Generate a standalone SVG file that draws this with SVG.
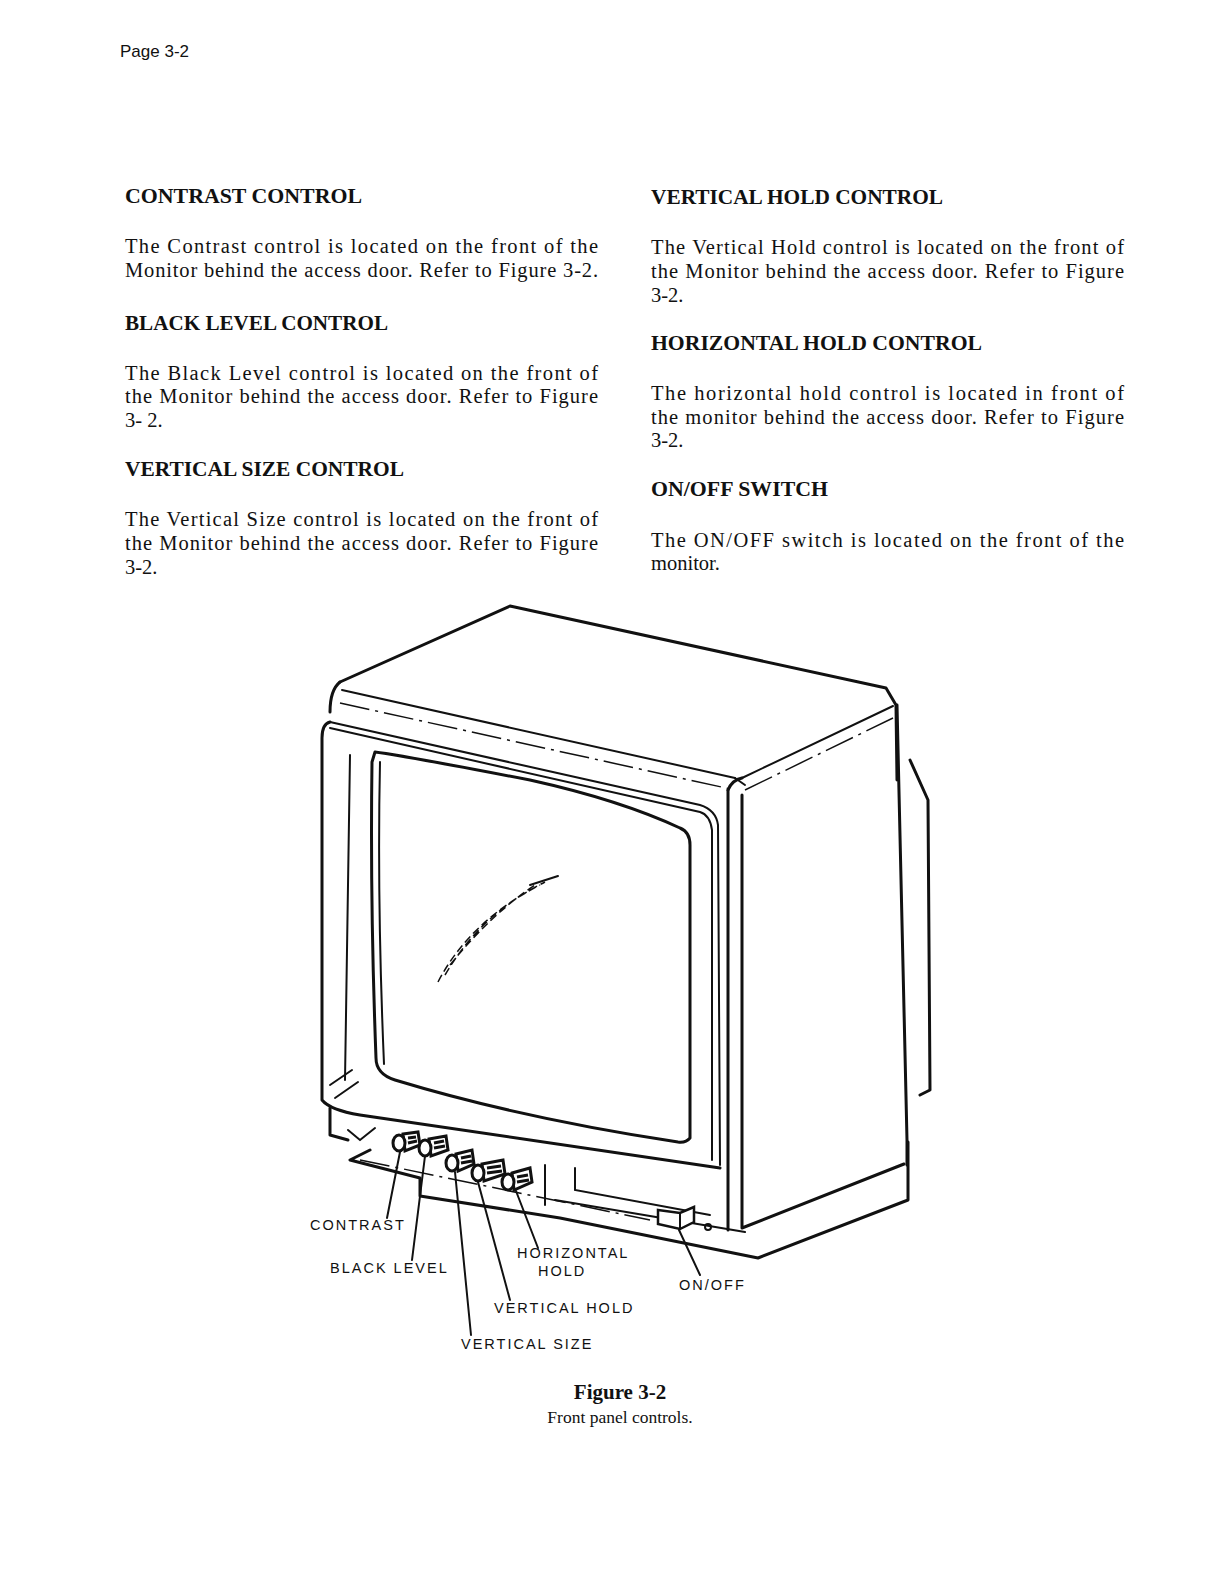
<svg xmlns="http://www.w3.org/2000/svg" width="1224" height="1582" viewBox="0 0 1224 1582">
<style>
.h{font-family:"Liberation Serif",serif;font-weight:bold;font-size:21.5px;fill:#111}
.b{font-family:"Liberation Serif",serif;font-size:20.5px;fill:#111}
.l{font-family:"Liberation Sans",sans-serif;font-size:14.5px;letter-spacing:2px;fill:#111}
.s{fill:none;stroke:#111;stroke-width:3;stroke-linejoin:round;stroke-linecap:round}
.t{fill:none;stroke:#111;stroke-width:2;stroke-linecap:round}
.d{fill:none;stroke:#111;stroke-width:1.5;stroke-dasharray:30 6 3 6}
</style>
<rect width="1224" height="1582" fill="#fff"/>
<text x="120" y="57" font-family="Liberation Sans,sans-serif" font-size="17" fill="#111">Page 3-2</text>
<g id="text-left">
<text class="h" x="125" y="203" textLength="237" lengthAdjust="spacingAndGlyphs">CONTRAST CONTROL</text>
<text class="b" x="125" y="253" textLength="473" lengthAdjust="spacing">The Contrast control is located on the front of the</text>
<text class="b" x="125" y="277" textLength="473" lengthAdjust="spacing">Monitor behind the access door. Refer to Figure 3-2.</text>
<text class="h" x="125" y="330" textLength="263" lengthAdjust="spacingAndGlyphs">BLACK LEVEL CONTROL</text>
<text class="b" x="125" y="380" textLength="473" lengthAdjust="spacing">The Black Level control is located on the front of</text>
<text class="b" x="125" y="403" textLength="473" lengthAdjust="spacing">the Monitor behind the access door. Refer to Figure</text>
<text class="b" x="125" y="427">3- 2.</text>
<text class="h" x="125" y="476" textLength="279" lengthAdjust="spacingAndGlyphs">VERTICAL SIZE CONTROL</text>
<text class="b" x="125" y="526" textLength="473" lengthAdjust="spacing">The Vertical Size control is located on the front of</text>
<text class="b" x="125" y="550" textLength="473" lengthAdjust="spacing">the Monitor behind the access door. Refer to Figure</text>
<text class="b" x="125" y="574">3-2.</text>
</g>
<g id="text-right">
<text class="h" x="651" y="204" textLength="292" lengthAdjust="spacingAndGlyphs">VERTICAL HOLD CONTROL</text>
<text class="b" x="651" y="254" textLength="473" lengthAdjust="spacing">The Vertical Hold control is located on the front of</text>
<text class="b" x="651" y="278" textLength="473" lengthAdjust="spacing">the Monitor behind the access door. Refer to Figure</text>
<text class="b" x="651" y="302">3-2.</text>
<text class="h" x="651" y="350" textLength="331" lengthAdjust="spacingAndGlyphs">HORIZONTAL HOLD CONTROL</text>
<text class="b" x="651" y="400" textLength="473" lengthAdjust="spacing">The horizontal hold control is located in front of</text>
<text class="b" x="651" y="424" textLength="473" lengthAdjust="spacing">the monitor behind the access door. Refer to Figure</text>
<text class="b" x="651" y="447">3-2.</text>
<text class="h" x="651" y="496" textLength="177" lengthAdjust="spacingAndGlyphs">ON/OFF SWITCH</text>
<text class="b" x="651" y="547" textLength="473" lengthAdjust="spacing">The ON/OFF switch is located on the front of the</text>
<text class="b" x="651" y="570">monitor.</text>
</g>
<g id="monitor">
<!-- top face -->
<path class="s" d="M340,682 L510,606 L886,688 L896,705 L897,780"/>
<path class="s" d="M340,682 Q330,690 330,712"/>
<path class="t" d="M342,690 L735,778"/>
<path class="d" d="M340,703 L735,790"/>
<path class="t" d="M742,778 L893,706"/>
<path class="d" d="M745,790 L893,718"/>
<path class="t" d="M735,778 L745,785"/>
<!-- right side -->
<path class="s" d="M728,790 Q732,780 742,778"/>
<path class="s" d="M742,795 L742,1228 L904,1164"/>
<path class="s" d="M897,705 L907,1140 L907,1165"/>
<path class="s" d="M728,790 L728,1230"/>
<path class="s" d="M910,760 L928,800 L930,1090 L920,1095"/>
<!-- bezel -->
<path class="s" d="M330,722 Q322,724 322,738 L322,1100 Q330,1110 360,1115 L720,1168"/>
<path class="t" d="M330,722 L700,805 Q716,810 718,825 L720,1165"/>
<path class="t" d="M330,728 L700,812 Q710,815 712,830 L712,1160"/>
<path class="t" d="M350,755 L345,1080"/>
<path class="s" d="M375,752 Q400,755 530,780 Q620,800 680,828 Q690,832 690,845 L690,1138 Q686,1143 678,1142 Q520,1118 395,1080 Q376,1074 376,1058 Q370,900 372,762 Z"/>
<path class="t" d="M380,762 Q377,900 384,1064"/>
<path class="t" d="M330,1085 L352,1070 M335,1098 L358,1082"/>
<!-- reflection -->
<path class="d" d="M438,982 Q470,920 545,882 M445,975 Q480,915 540,885 M450,965 Q490,915 535,885" style="stroke-dasharray:8 4"/>
<path class="t" d="M530,885 L558,876"/>
<!-- base -->
<path class="s" d="M330,1108 L330,1135 L348,1140"/>
<path class="t" d="M348,1130 L360,1140 L375,1128"/>
<path class="s" d="M370,1150 L350,1160 L420,1178 L420,1196 L560,1218 L758,1258 L908,1200 L908,1142"/>
<path class="t" d="M420,1196 L420,1186"/>
<path class="t" d="M545,1165 L545,1205"/>
<path class="t" d="M555,1200 L745,1232"/>
<path class="t" d="M575,1168 L575,1190 L710,1215"/>
<path class="d" d="M360,1160 L650,1220"/>
<!-- knobs -->
<g fill="#fff" stroke="#111" stroke-width="3">
<path d="M403,1134 L418,1132 L420,1145 L405,1151 Z M408,1138 L416,1137 M408,1143 L417,1141"/><ellipse cx="399" cy="1143" rx="6" ry="8"/>
<path d="M429,1139 L446,1136 L448,1150 L431,1156 Z M434,1143 L444,1141 M434,1148 L445,1146"/><ellipse cx="425" cy="1148" rx="6" ry="8"/>
<path d="M456,1154 L472,1150 L474,1164 L458,1171 Z M461,1158 L471,1156 M461,1163 L472,1161"/><ellipse cx="452" cy="1163" rx="6" ry="8"/>
<path d="M482,1164 L503,1160 L505,1174 L484,1181 Z M487,1168 L501,1166 M487,1173 L502,1171"/><ellipse cx="478" cy="1173" rx="6" ry="8"/>
<path d="M512,1173 L530,1168 L532,1182 L514,1190 Z M517,1177 L528,1175 M517,1182 L529,1180"/><ellipse cx="508" cy="1182" rx="6" ry="8"/>
</g>
<!-- on/off switch -->
<path fill="#fff" stroke="#111" stroke-width="2.5" d="M658,1210 L680,1213 L694,1207 L694,1222 L680,1229 L658,1224 Z"/>
<path class="t" d="M680,1213 L680,1229"/>
<circle cx="708" cy="1227" r="3" fill="none" stroke="#111" stroke-width="2"/>
</g>
<g id="connectors" class="t">
<path d="M387,1218 L400,1152"/>
<path d="M412,1260 L425,1156"/>
<path d="M471,1335 L455,1172"/>
<path d="M510,1300 L478,1182"/>
<path d="M538,1248 L516,1191"/>
<path d="M700,1275 L679,1230"/>
</g>
<g id="labels">
<text class="l" x="310" y="1230">CONTRAST</text>
<text class="l" x="330" y="1273">BLACK LEVEL</text>
<text class="l" x="517" y="1258">HORIZONTAL</text>
<text class="l" x="538" y="1276">HOLD</text>
<text class="l" x="679" y="1290">ON/OFF</text>
<text class="l" x="494" y="1313">VERTICAL HOLD</text>
<text class="l" x="461" y="1349">VERTICAL SIZE</text>
</g>
<text x="620" y="1399" text-anchor="middle" font-family="Liberation Serif,serif" font-weight="bold" font-size="21" fill="#111">Figure 3-2</text>
<text x="620" y="1423" text-anchor="middle" font-family="Liberation Serif,serif" font-size="17.5" fill="#111">Front panel controls.</text>
</svg>
